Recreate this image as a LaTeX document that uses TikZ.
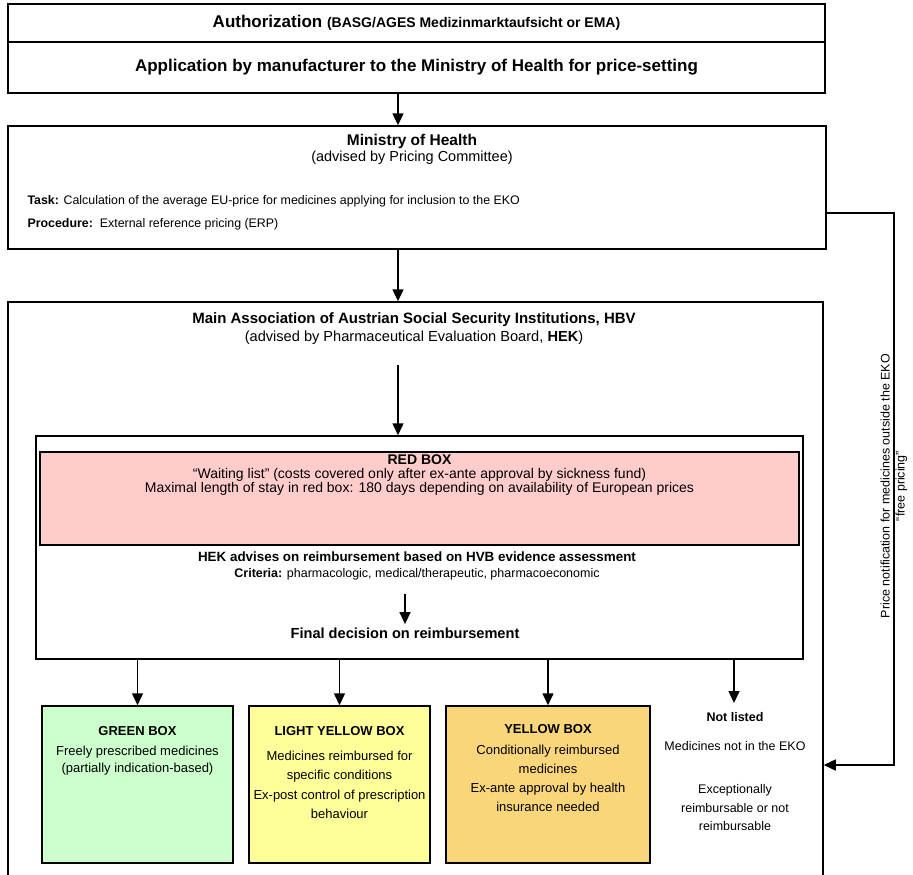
\documentclass[tikz,border=0pt]{standalone}
\usepackage{fontspec}
\setmainfont{Liberation Sans}
\usepackage{xcolor}
\definecolor{hvbred}{RGB}{255,204,204}
\definecolor{hvbgreen}{RGB}{204,255,204}
\definecolor{hvblight}{RGB}{255,255,153}
\definecolor{hvbyellow}{RGB}{249,214,122}
\usetikzlibrary{arrows.meta,positioning,calc}

\begin{document}
\begin{tikzpicture}[x=1pt,y=-1pt,
  box/.style={draw,line width=1.5pt,inner sep=0pt},
  arr/.style={-{Triangle[length=12pt,width=11pt]},line width=1.5pt},
  big/.style={font=\fontsize{17}{20}\selectfont\bfseries},
  txt/.style={font=\fontsize{13}{18}\selectfont,align=center},
  sm/.style={font=\fontsize{12.4}{15}\selectfont}]
  \useasboundingbox (0,0) rectangle (913,875);
  \clip (0,0) rectangle (913,875);
  % Authorization and application
  \node[box,big,minimum width=817pt,minimum height=38pt] (auth) at (416.5,23) {Authorization {\fontsize{14}{16}\selectfont (BASG/AGES Medizinmarktaufsicht or EMA)}};
  \node[box,big,minimum width=817pt,minimum height=51pt] (appl) at (416.5,67.5) {Application by manufacturer to the Ministry of Health for price-setting};
  \coordinate (col) at (398,0);
  % Ministry of Health
  \node[box,minimum width=818pt,minimum height=123pt] (moh) at (417,187.5) {};
  \node[txt,font=\fontsize{14.5}{16}\selectfont] (mohtitle) at (412,149) {{\fontsize{15.5}{16}\selectfont\bfseries Ministry of Health}\\(advised by Pricing Committee)};
  \node[sm,anchor=west] (task) at (24,201) {\textbf{Task:} Calculation of the average EU-price for medicines applying for inclusion to the EKO};
  \node[sm,anchor=west] (proc) at (24,224) {\textbf{Procedure:}\ \ External reference pricing (ERP)};
  \draw[arr] (appl.south -| col) -- (moh.north -| col);
  % Main Association (HVB)
  \node[box,minimum width=815pt,minimum height=700pt] (hvb) at (415.5,652) {};
  \node[txt,font=\fontsize{14.6}{18}\selectfont] (hvbtitle) at (414,329) {{\fontsize{15}{18}\selectfont\bfseries Main Association of Austrian Social Security Institutions, HBV}\\(advised by Pharmaceutical Evaluation Board, \textbf{HEK})};
  \draw[arr] (moh.south -| col) -- (hvb.north -| col);
  \coordinate (hvbout) at (398,365);
  % HEK evaluation
  \node[box,minimum width=767pt,minimum height=223pt] (hek) at (419.5,547.5) {};
  \node[box,fill=hvbred,minimum width=759pt,minimum height=93pt] (red) at (419.5,498.5) {};
  \node[txt,font=\fontsize{14}{14}\selectfont] (redtxt) at (419.5,475) {\textbf{RED BOX}\\“Waiting list” (costs covered only after ex-ante approval by sickness fund)\\Maximal length of stay in red box: 180 days depending on availability of European prices};
  \node[txt,font=\fontsize{12.5}{16}\selectfont] (advise) at (417,566) {{\fontsize{13.4}{16}\selectfont\bfseries HEK advises on reimbursement based on HVB evidence assessment}\\\textbf{Criteria:} pharmacologic, medical/therapeutic, pharmacoeconomic};
  \node[txt,font=\fontsize{14.6}{16}\selectfont\bfseries] (final) at (405,633) {Final decision on reimbursement};
  \coordinate (decin) at (405,594);
  \draw[arr] (hvbout) -- (hek.north -| col);
  \draw[arr] (decin) -- (final.north);
  % Reimbursement boxes
  \node[box,fill=hvbgreen,minimum width=191pt,minimum height=157pt] (green) at (137.5,784.5) {};
  \node[box,fill=hvblight,minimum width=181pt,minimum height=157pt] (light) at (339.5,784.5) {};
  \node[box,fill=hvbyellow,minimum width=204pt,minimum height=157pt] (yellow) at (548,784.5) {};
  \node[txt,below=18pt of green.north,font=\fontsize{13}{17}\selectfont] (greentxt) {\textbf{GREEN BOX}\\[3pt]Freely prescribed medicines\\(partially indication-based)};
  \node[txt,below=18pt of light.north,font=\fontsize{13}{19.5}\selectfont] (lighttxt) {\textbf{LIGHT YELLOW BOX}\\[5pt]Medicines reimbursed for\\specific conditions\\Ex-post control of prescription\\behaviour};
  \node[txt,below=16pt of yellow.north,font=\fontsize{13}{19}\selectfont] (yellowtxt) {\textbf{YELLOW BOX}\\[2pt]Conditionally reimbursed\\medicines\\Ex-ante approval by health\\insurance needed};
  \node[txt,font=\fontsize{12.5}{18.5}\selectfont] (notlisted) at (735,772) {\textbf{Not listed}\\[10pt]Medicines not in the EKO\\[25pt]Exceptionally\\reimbursable or not\\reimbursable};
  \coordinate (nltip) at (734,703);
  \draw[arr] (hek.south -| green.north) -- (green.north);
  \draw[arr] (hek.south -| light.north) -- (light.north);
  \draw[arr] (hek.south -| yellow.north) -- (yellow.north);
  \draw[arr] (hek.south -| nltip) -- (nltip);
  % Price notification outside the EKO
  \coordinate (pn1) at (894,213);
  \coordinate (pn2) at (894,765);
  \draw[arr] (moh.east |- pn1) -- (pn1) -- (pn2) -- (hvb.east |- pn2);
  \node[rotate=90,align=center,font=\fontsize{12.5}{15}\selectfont] (pnlabel) at (894,486) {Price notification for medicines outside the EKO\\“free pricing”};
\end{tikzpicture}
\end{document}
